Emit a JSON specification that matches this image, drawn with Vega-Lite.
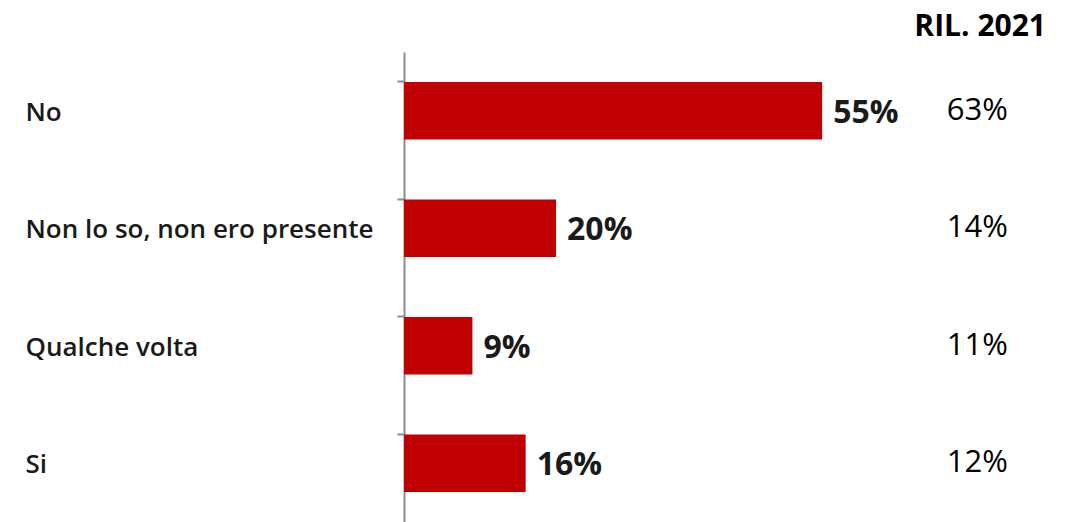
{
  "$schema": "https://vega.github.io/schema/vega-lite/v6.json",
  "width": 1073,
  "height": 522,
  "autosize": {"type": "fit", "contains": "padding"},
  "padding": {"left": 25, "top": 12, "right": 0, "bottom": 0},
  "background": "white",
  "title": {
    "text": "RIL. 2021",
    "anchor": "end",
    "frame": "bounds",
    "dx": -27,
    "offset": 10,
    "font": "Open Sans",
    "fontSize": 30,
    "fontWeight": "bold",
    "color": "#000000"
  },
  "config": {"view": {"stroke": null}},
  "data": {
    "values": [
      {"cat": "No", "v": 0.55, "v21": 0.63},
      {"cat": "Non lo so, non ero presente", "v": 0.20, "v21": 0.14},
      {"cat": "Qualche volta", "v": 0.09, "v21": 0.11},
      {"cat": "Si", "v": 0.16, "v21": 0.12}
    ]
  },
  "encoding": {
    "y": {
      "field": "cat",
      "type": "nominal",
      "sort": null,
      "scale": {"paddingInner": 0.51, "paddingOuter": 0.255},
      "axis": {
        "title": null,
        "bandPosition": 0,
        "domainColor": "#8c8c8c",
        "domainWidth": 2,
        "tickColor": "#8c8c8c",
        "tickWidth": 2,
        "tickSize": 7,
        "labelAlign": "left",
        "labelPadding": 372,
        "labelOffset": 2,
        "labelFont": "Open Sans",
        "labelFontSize": 26,
        "labelFontWeight": 600,
        "labelColor": "#1a1a1a",
        "labelLimit": 400
      }
    }
  },
  "layer": [
    {
      "mark": {"type": "bar", "color": "#c00000"},
      "encoding": {
        "x": {"field": "v", "type": "quantitative", "scale": {"domain": [0, 0.88], "nice": false}, "axis": null}
      }
    },
    {
      "mark": {"type": "text", "align": "left", "dx": 11, "dy": 2, "font": "Open Sans", "fontSize": 32, "fontWeight": "bold", "color": "#1a1a1a"},
      "encoding": {
        "x": {"field": "v", "type": "quantitative"},
        "text": {"field": "v", "type": "quantitative", "format": ".0%"}
      }
    },
    {
      "mark": {"type": "text", "align": "center", "font": "Open Sans", "fontSize": 31, "fontWeight": "normal", "color": "#000000"},
      "encoding": {
        "x": {"datum": 0.754, "type": "quantitative"},
        "text": {"field": "v21", "type": "quantitative", "format": ".0%"}
      }
    }
  ]
}
